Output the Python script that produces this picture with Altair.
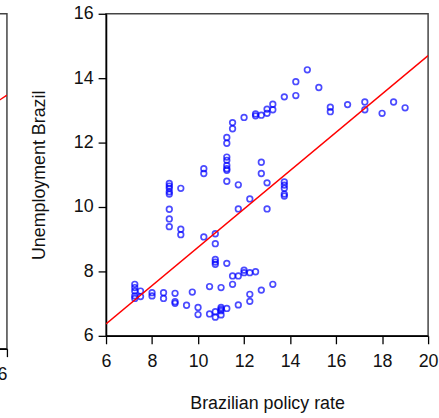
import altair as alt
import pandas as pd

# Brazilian policy rate (x) and unemployment (y)
rate = [7.25, 7.25, 7.25, 7.25, 7.25,
        7.50, 7.50,
        8.00, 8.00,
        8.50, 8.50,
        8.75, 8.75, 8.75, 8.75, 8.75, 8.75, 8.75, 8.75,
        9.00, 9.00, 9.00,
        9.25, 9.25, 9.25,
        9.50,
        9.75,
        10.00, 10.00,
        10.25, 10.25, 10.25,
        10.50, 10.50,
        10.75, 10.75, 10.75, 10.75, 10.75, 10.75, 10.75,
        11.00, 11.00, 11.00, 11.00, 11.00,
        11.25, 11.25, 11.25, 11.25, 11.25, 11.25, 11.25, 11.25, 11.25, 11.25,
        11.50, 11.50, 11.50, 11.50,
        11.75, 11.75, 11.75, 11.75,
        12.00, 12.00, 12.00,
        12.25, 12.25, 12.25, 12.25,
        12.50, 12.50, 12.50,
        12.75, 12.75, 12.75, 12.75,
        13.00, 13.00, 13.00, 13.00,
        13.25, 13.25, 13.25,
        13.75, 13.75, 13.75, 13.75, 13.75, 13.75,
        14.25, 14.25,
        14.75,
        15.25,
        15.75, 15.75,
        16.50,
        17.25, 17.25,
        18.00,
        18.50,
        19.00]
unemp = [7.60, 7.50, 7.39, 7.24, 7.16,
         7.39, 7.22,
         7.34, 7.24,
         7.34, 7.16,
         10.73, 10.65, 10.58, 10.47, 10.40, 9.93, 9.63, 9.39,
         7.32, 7.06, 7.01,
         10.58, 9.31, 9.14,
         6.95,
         7.36,
         6.88, 6.66,
         11.19, 11.04, 9.07,
         7.53, 6.68,
         9.17, 8.86, 8.37, 8.29, 8.22, 6.75, 6.58,
         7.50, 6.88, 6.78, 6.65, 6.83,
         12.16, 11.98, 11.55, 11.45, 11.29, 11.19, 11.14, 10.80, 8.25, 6.85,
         12.62, 12.43, 7.86, 7.60,
         10.69, 9.94, 7.86, 6.96,
         12.78, 8.04, 7.96,
         10.25, 7.96, 7.29, 7.07,
         12.89, 12.83, 7.99,
         12.85, 11.39, 11.04, 7.42,
         13.04, 12.91, 10.75, 9.94,
         13.19, 13.02, 7.60,
         13.42, 10.78, 10.68, 10.58, 10.40, 10.34,
         13.89, 13.46,
         14.26,
         13.71,
         13.10, 12.96,
         13.18,
         13.26, 13.02,
         12.91,
         13.26,
         13.08]

# fitted line end points
fit_rate = [6, 20]
fit_unemp = [6.37, 14.70]

# fragment of the neighbouring panel on the left
left_x = [0, 6]
left_y = [5.60, 7.57]

x_ticks = [6, 8, 10, 12, 14, 16, 18, 20]
y_ticks = [6, 8, 10, 12, 14, 16]
left_ticks = [6]

FONT = "Liberation Sans"

df = pd.DataFrame({"rate": rate, "unemp": unemp})
fit = pd.DataFrame({"rate": fit_rate, "unemp": fit_unemp})
left = pd.DataFrame({"x": left_x, "y": left_y})

xs = alt.Scale(domain=[6, 20], nice=False, zero=False)
ys = alt.Scale(domain=[6, 16], nice=False, zero=False)

points = alt.Chart(df).mark_point(
    shape="circle", filled=False, color="#0000FF", size=32, strokeWidth=1.7
).encode(
    x=alt.X("rate:Q", scale=xs,
            axis=alt.Axis(title="Brazilian policy rate", values=x_ticks,
                          labelFlush=False, labelPadding=9, titlePadding=24)),
    y=alt.Y("unemp:Q", scale=ys,
            axis=alt.Axis(title="Unemployment Brazil", values=y_ticks,
                          labelPadding=5, titlePadding=25)),
)

line = alt.Chart(fit).mark_line(color="#FF0000", strokeWidth=1.4, clip=True).encode(
    x=alt.X("rate:Q", scale=xs),
    y=alt.Y("unemp:Q", scale=ys),
)

main = alt.layer(points, line).properties(width=325, height=325)

left_chart = alt.Chart(left).mark_line(color="#FF0000", strokeWidth=1.4, clip=True).encode(
    x=alt.X("x:Q", scale=alt.Scale(domain=[0, 6], nice=False, zero=False),
            axis=alt.Axis(title=None, values=left_ticks, labelFlush=False,
                          labelAlign="right", labelPadding=9)),
    y=alt.Y("y:Q", scale=alt.Scale(domain=[0, 10], nice=False, zero=False), axis=None),
).properties(width=100, height=338)

chart = alt.hconcat(left_chart, main, spacing=100, bounds="flush").properties(
    padding={"left": -94, "top": 2, "right": 0, "bottom": 0}
).configure_view(
    stroke="#444444", strokeWidth=1.5
).configure_axis(
    grid=False,
    domainColor="#000000", domainWidth=1.5,
    tickColor="#000000", tickWidth=1.3, tickSize=8,
    labelFont=FONT, labelFontSize=18, labelColor="#111111",
    titleFont=FONT, titleFontSize=18, titleFontWeight="normal", titleColor="#111111",
)

chart.save("out.html", embed_options={"renderer": "svg", "actions": False})
